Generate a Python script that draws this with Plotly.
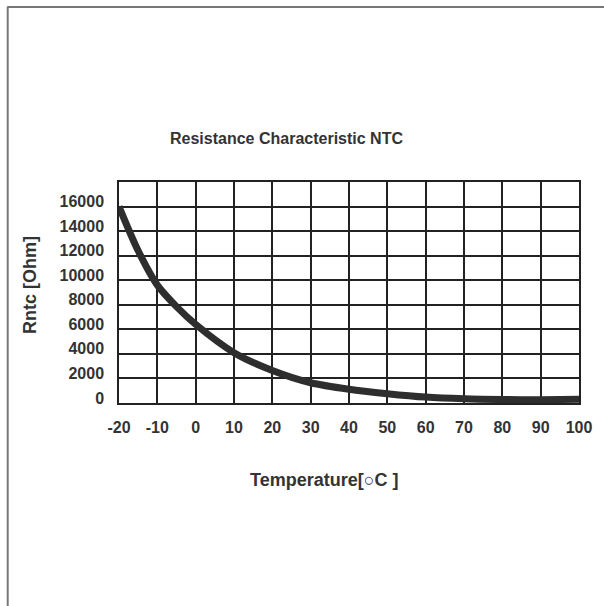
import plotly.graph_objects as go

# Data
temperature_c = [-20, -15, -10, -5, 0, 10, 20, 30, 40, 50, 60, 70, 80, 90, 100]
resistance_ohm = [16000, 12400, 9600, 7850, 6400, 4100, 2650, 1650, 1120, 760, 480, 340, 280, 270, 300]

x_ticks = [-20, -10, 0, 10, 20, 30, 40, 50, 60, 70, 80, 90, 100]
x_tick_labels = ["-20", "-10", "0", "10", "20", "30", "40", "50", "60", "70", "80", "90", "100"]
y_ticks = [0, 2000, 4000, 6000, 8000, 10000, 12000, 14000, 16000, 18000]
y_tick_labels = ["0", "2000", "4000", "6000", "8000", "10000", "12000", "14000", "16000", ""]

title_text = "Resistance Characteristic NTC"
x_title = "Temperature[○C ]"
y_title = "Rntc [Ohm]"

W, H = 604, 606
L, R, T, B = 119, 20, 182, 203
PW, PH = W - L - R, H - T - B


def px_x(p):
    return (p - L) / PW


def px_y(p):
    return (H - B - p) / PH


FONT = "Liberation Sans, Arial, sans-serif"
TXT = "#333333"
GRID = "#222222"

fig = go.Figure()
fig.add_trace(go.Scatter(
    x=temperature_c, y=resistance_ohm, mode="lines",
    line=dict(color="#2e2e2e", width=7, shape="spline", smoothing=0.8),
    showlegend=False, hoverinfo="skip",
))

axis_common = dict(
    showgrid=True, gridcolor=GRID, gridwidth=1.5, zeroline=False,
    showline=True, mirror=True, linecolor=GRID, linewidth=1.5,
    ticks="", tickfont=dict(family=FONT, size=16, color=TXT, weight="bold"),
)

fig.update_xaxes(
    range=[-20, 100], tickmode="array", tickvals=x_ticks, ticktext=x_tick_labels,
    ticklabelstandoff=9, **axis_common,
)
fig.update_yaxes(
    range=[0, 18000], tickmode="array", tickvals=y_ticks, ticktext=y_tick_labels,
    ticklabelstandoff=10, ticklabelshift=-5, **axis_common,
)

annotations = [
    dict(text=title_text, x=px_x(288), y=px_y(138), xref="paper", yref="paper",
         showarrow=False, xanchor="center", yanchor="middle",
         font=dict(family=FONT, size=16, color=TXT, weight="bold")),
    dict(text=x_title, x=px_x(327), y=px_y(480), xref="paper", yref="paper",
         showarrow=False, xanchor="center", yanchor="middle",
         font=dict(family=FONT, size=18, color=TXT, weight="bold")),
    dict(text=y_title, x=px_x(29), y=px_y(285), xref="paper", yref="paper",
         showarrow=False, xanchor="center", yanchor="middle", textangle=-90,
         font=dict(family=FONT, size=18, color=TXT, weight="bold")),
]

shapes = [
    dict(type="line", xref="paper", yref="paper", x0=px_x(6.5), x1=px_x(6.5),
         y0=px_y(7), y1=px_y(610), line=dict(color="#777777", width=2)),
    dict(type="line", xref="paper", yref="paper", x0=px_x(6), x1=px_x(610),
         y0=px_y(7), y1=px_y(7), line=dict(color="#777777", width=2)),
]

fig.update_layout(
    width=W, height=H,
    margin=dict(l=L, r=R, t=T, b=B, pad=0),
    paper_bgcolor="white", plot_bgcolor="white",
    annotations=annotations, shapes=shapes,
    showlegend=False,
)

fig.write_html(
    "out.html",
    config={"displayModeBar": False},
    post_script="document.body.style.margin='0';document.body.style.overflow='hidden';",
)
